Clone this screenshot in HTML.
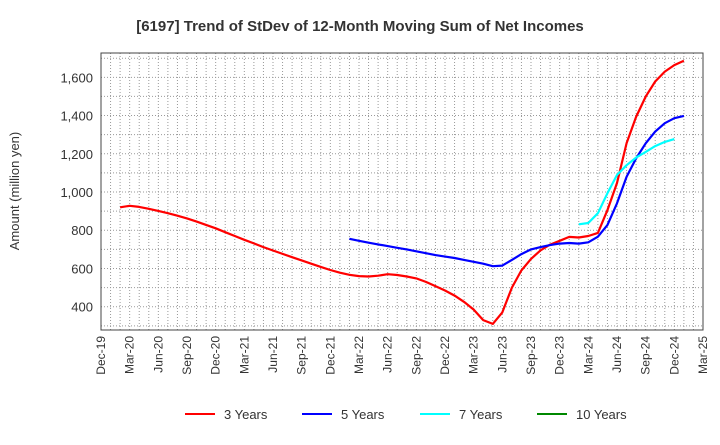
<!DOCTYPE html>
<html><head><meta charset="utf-8"><style>
body{margin:0;background:#fff;font-family:"Liberation Sans",sans-serif;}
svg text{font-family:"Liberation Sans",sans-serif;}
</style></head><body>
<svg id="c" width="720" height="440" xmlns="http://www.w3.org/2000/svg">
<text x="360" y="31" text-anchor="middle" font-size="15" font-weight="bold" fill="#333">[6197]  Trend of StDev of 12-Month Moving Sum of Net Incomes</text>
<text transform="translate(19,191) rotate(-90)" text-anchor="middle" font-size="13" fill="#333">Amount (million yen)</text>
<g id="grid"></g><g id="series"></g><g id="axes"></g>
<g>
<line x1="185" y1="414" x2="215" y2="414" stroke="#f00" stroke-width="2"/><text x="224" y="419" font-size="13" fill="#333">3 Years</text>
<line x1="302" y1="414" x2="332" y2="414" stroke="#00f" stroke-width="2"/><text x="341" y="419" font-size="13" fill="#333">5 Years</text>
<line x1="420" y1="414" x2="450" y2="414" stroke="#0ff" stroke-width="2"/><text x="459" y="419" font-size="13" fill="#333">7 Years</text>
<line x1="537" y1="414" x2="567" y2="414" stroke="#080" stroke-width="2"/><text x="576" y="419" font-size="13" fill="#333">10 Years</text>
</g>
</svg>
<script>
const xLabels=["Dec-19","Mar-20","Jun-20","Sep-20","Dec-20","Mar-21","Jun-21","Sep-21","Dec-21","Mar-22","Jun-22","Sep-22","Dec-22","Mar-23","Jun-23","Sep-23","Dec-23","Mar-24","Jun-24","Sep-24","Dec-24","Mar-25"];
const yTicks=[400,600,800,1000,1200,1400,1600];
const start3=2;
const vals3=[920,928,922,912,901,889,876,862,845,828,810,790,770,750,731,712,694,676,659,642,625,608,592,578,567,560,558,562,570,566,558,548,530,508,485,458,425,385,330,310,370,500,590,650,695,725,745,765,762,770,786,905,1047,1256,1393,1499,1578,1630,1664,1687];
const start5=26;
const vals5=[755,745,735,726,717,708,700,690,680,670,662,655,645,635,625,612,615,645,675,700,712,722,730,733,730,737,766,827,941,1080,1176,1255,1316,1360,1386,1398];
const start7=50;
const vals7=[831,838,889,993,1089,1140,1180,1210,1240,1262,1277];
const L=101,R=703,T=53,B=330;
const X=m=>L+m*(R-L)/63;
const Y=v=>306.7-(v-400)*38.23/200;
const NS="http://www.w3.org/2000/svg";
function el(t,a,p){const e=document.createElementNS(NS,t);for(const k in a)e.setAttribute(k,a[k]);document.getElementById(p).appendChild(e);return e;}
for(let m=1;m<63;m++){const g=el('line',{x1:X(m),x2:X(m),y1:T,y2:B,stroke:'#999','stroke-dasharray':'1,2','stroke-width':1},'grid');

}
for(let v=300;v<=1700;v+=100){const y=Y(v);if(y<T||y>B)continue;const g=el('line',{x1:L,x2:R,y1:y,y2:y,stroke:'#999','stroke-dasharray':'1,2','stroke-width':1},'grid');

}
const fr=el('rect',{x:L,y:T,width:R-L,height:B-T,fill:'none',stroke:'#444','stroke-width':1},'axes');


yTicks.forEach(v=>{const t=el('text',{x:L-8,y:Y(v)+5,'text-anchor':'end','font-size':13,fill:'#333'},'axes');t.textContent=v.toLocaleString('en-US');

});
xLabels.forEach((s,i)=>{const x=X(i*3);const t=el('text',{transform:`translate(${x+4},336) rotate(-90)`,'text-anchor':'end','font-size':12,fill:'#333'},'axes');t.textContent=s;

});
function line(st,vals,color,name){const pts=vals.map((v,i)=>X(st+i).toFixed(1)+','+Y(v).toFixed(1)).join(' ');
const p=el('polyline',{points:pts,fill:'none',stroke:color,'stroke-width':2.2,'stroke-linejoin':'round'},'series');

}
line(start3,vals3,'#f00','series-3-years');
line(start5,vals5,'#00f','series-5-years');
line(start7,vals7,'#0ff','series-7-years');
</script>
</body></html>
